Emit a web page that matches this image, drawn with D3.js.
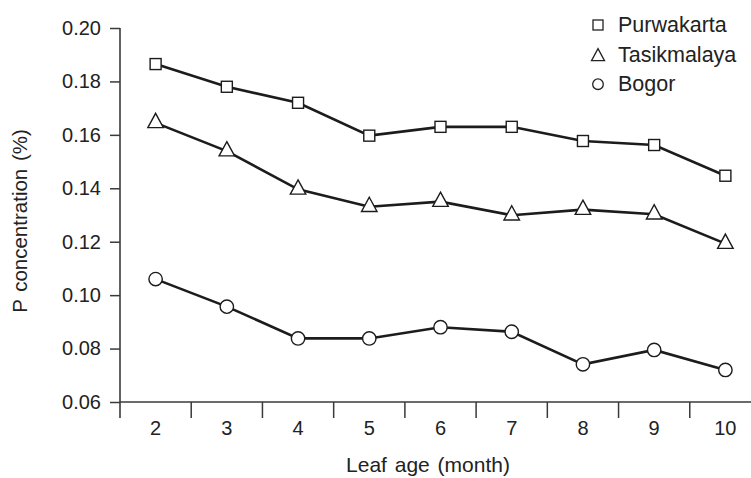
<!DOCTYPE html>
<html>
<head>
<meta charset="utf-8">
<script src="https://cdn.jsdelivr.net/npm/d3@7"></script>
<style>
  body { margin: 0; background: #fff; }
  svg { display: block; font-family: "Liberation Sans", Arial, sans-serif; }
</style>
</head>
<body>
<div id="chart"><svg width="751" height="478"></svg></div>
<script>
// data
var categories = [2, 3, 4, 5, 6, 7, 8, 9, 10];
var purwakarta = [0.1865, 0.178, 0.172, 0.1597, 0.163, 0.163, 0.1577, 0.1562, 0.1447];
var tasikmalaya = [0.1645, 0.1539, 0.1396, 0.1331, 0.135, 0.1299, 0.132, 0.1303, 0.1193];
var bogor = [0.106, 0.0957, 0.0838, 0.0838, 0.088, 0.0863, 0.0741, 0.0795, 0.072];
var yTicks = [0.06, 0.08, 0.10, 0.12, 0.14, 0.16, 0.18, 0.20];
var seriesNames = ['Purwakarta', 'Tasikmalaya', 'Bogor'];

(function() {
    var svg = d3.select('#chart svg'),
    total_width = 751,
    ink = '#1c1c1c',
    axisInk = '#3a3a3a',
    x,
    y,
    line,
    series;

    x = d3.scaleBand().domain(categories).range([120, 761]).padding(0);
    y = d3.scaleLinear().domain([0.06, 0.20]).range([402, 28]);

    // y axis
    var yAxis = svg.append('g')
	.attr('transform', 'translate(' + x.range()[0] + ',0)')
	.call(d3.axisLeft(y).tickValues(yTicks).tickFormat(d3.format('.2f')).tickSize(10).tickPadding(9));
    yAxis.select('.domain').remove();
    yAxis.selectAll('line').attr('stroke', axisInk).attr('stroke-width', 1.5);
    yAxis.selectAll('text').attr('font-size', 20).attr('fill', '#222').attr('font-family', null);

    svg.append('line')
	.attr('x1', x.range()[0]).attr('x2', x.range()[0])
	.attr('y1', y(0.20)).attr('y2', y(0.06) + 16)
	.attr('stroke', axisInk).attr('stroke-width', 1.6);

    // x axis
    svg.append('line')
	.attr('x1', x.range()[0]).attr('x2', total_width)
	.attr('y1', y(0.06)).attr('y2', y(0.06))
	.attr('stroke', axisInk).attr('stroke-width', 1.6);

    svg.append('g').selectAll('line')
	.data(categories.slice(1))
	.join('line')
	.attr('x1', function(d) { return x(d); })
	.attr('x2', function(d) { return x(d); })
	.attr('y1', y(0.06)).attr('y2', y(0.06) + 16)
	.attr('stroke', axisInk).attr('stroke-width', 1.5);

    svg.append('g').selectAll('text')
	.data(categories)
	.join('text')
	.attr('x', function(d) { return x(d) + x.bandwidth() / 2; })
	.attr('y', 435)
	.attr('text-anchor', 'middle')
	.attr('font-size', 20)
	.attr('fill', '#222')
	.text(function(d) { return d; });

    // axis titles
    svg.append('text')
	.attr('x', 428).attr('y', 472)
	.attr('text-anchor', 'middle')
	.attr('font-size', 21)
	.attr('word-spacing', 2)
	.attr('fill', '#222')
	.text('Leaf age (month)');

    svg.append('text')
	.attr('transform', 'translate(27,221) rotate(-90)')
	.attr('text-anchor', 'middle')
	.attr('font-size', 20.5)
	.attr('word-spacing', 2)
	.attr('fill', '#222')
	.text('P concentration (%)');

    // marker shapes
    function marker(sel, kind, s) {
	if (kind === 0) {
	    sel.append('rect')
		.attr('x', -s / 2).attr('y', -s / 2)
		.attr('width', s).attr('height', s);
	} else if (kind === 1) {
	    var h = s * 0.92;
	    sel.append('path')
		.attr('d', 'M0,' + (-2 * h / 3) + 'L' + (s / 2) + ',' + (h / 3) + 'L' + (-s / 2) + ',' + (h / 3) + 'Z');
	} else {
	    sel.append('circle').attr('r', s / 2);
	}
    }

    line = d3.line()
	.x(function(d, i) { return x(categories[i]) + x.bandwidth() / 2; })
	.y(function(d) { return y(d); });

    series = [purwakarta, tasikmalaya, bogor];
    var sizes = [11, 15.5, 13.4];

    series.forEach(function(values, k) {
	svg.append('path')
	    .datum(values)
	    .attr('d', line)
	    .attr('fill', 'none')
	    .attr('stroke', ink)
	    .attr('stroke-width', 2.6);
	svg.append('g').selectAll('g')
	    .data(values)
	    .join('g')
	    .attr('transform', function(d, i) {
		return 'translate(' + (x(categories[i]) + x.bandwidth() / 2) + ',' + y(d) + ')';
	    })
	    .each(function() { marker(d3.select(this), k, sizes[k]); })
	    .selectAll('*')
	    .attr('fill', '#fff')
	    .attr('stroke', ink)
	    .attr('stroke-width', 1.4);
    });

    // legend
    var legendSizes = [10, 13, 10.6];
    var legend = svg.append('g').selectAll('g')
	.data(seriesNames)
	.join('g')
	.attr('transform', function(d, i) { return 'translate(598,' + (25 + i * 29.6) + ')'; });
    legend.each(function(d, i) {
	var g = d3.select(this);
	var m = g.append('g').attr('transform', i === 1 ? 'translate(0,2)' : null);
	marker(m, i, legendSizes[i]);
	m.selectAll('*').attr('fill', '#fff').attr('stroke', '#222').attr('stroke-width', 1.3);
	g.append('text')
	    .attr('x', 20).attr('y', 7)
	    .attr('font-size', 21.5)
	    .attr('fill', '#222')
	    .text(d);
    });
}).call(this);
</script>
</body>
</html>
